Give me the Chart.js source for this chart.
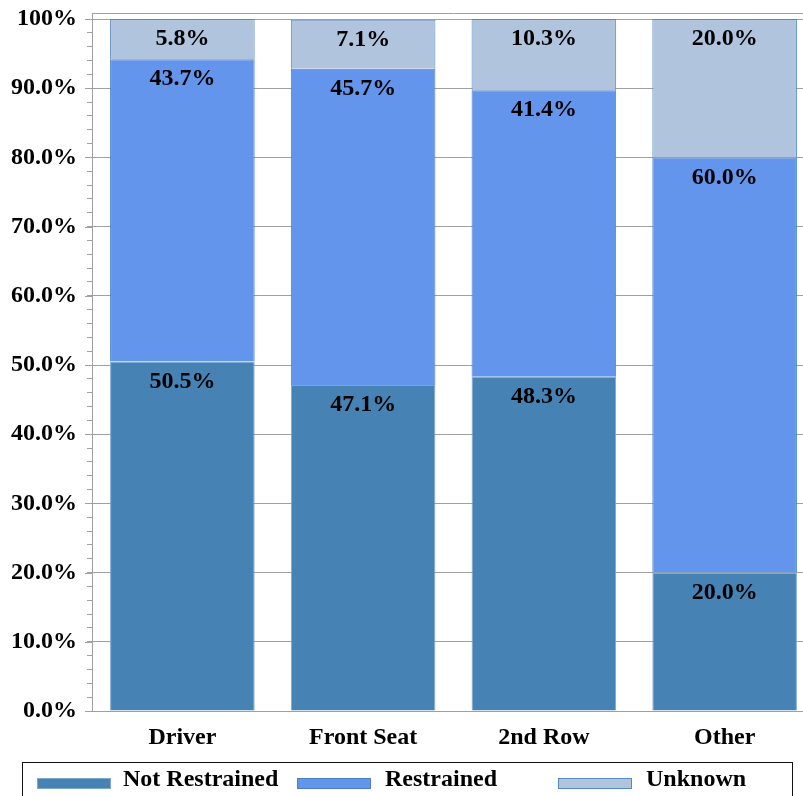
<!DOCTYPE html>
<html>
<head>
<meta charset="utf-8">
<script src="https://cdn.jsdelivr.net/npm/chart.js@4/dist/chart.umd.min.js"></script>
<style>
  html, body { margin: 0; padding: 0; background: #fff; overflow: hidden; }
  #wrap { position: absolute; left: 0; top: 0; width: 816px; height: 796px; }
</style>
</head>
<body>
<div id="wrap"><canvas id="chart"></canvas></div>
<script>
// Chart data
const categories = ["Driver", "Front Seat", "2nd Row", "Other"];
const notRestrained = [50.5, 47.1, 48.3, 20.0];
const restrained = [43.7, 45.7, 41.4, 60.0];
const unknown = [5.8, 7.1, 10.3, 20.0];
const seriesNames = ["Not Restrained", "Restrained", "Unknown"];
const yTicks = [0, 10, 20, 30, 40, 50, 60, 70, 80, 90, 100];

const FONT = "'Liberation Serif', 'Times New Roman', serif";
const GRID = "#a0a0a0";

// labels at the top of each segment
const segmentLabels = {
    id: "segmentLabels",
    afterDatasetsDraw(chart) {
        const ctx = chart.ctx;
        ctx.save();
        ctx.font = "bold 24px " + FONT;
        ctx.fillStyle = "#000";
        ctx.textAlign = "center";
        ctx.textBaseline = "middle";
        chart.data.datasets.forEach((ds, i) => {
            chart.getDatasetMeta(i).data.forEach((bar, j) => {
                ctx.fillText(ds.data[j].toFixed(1) + "%", bar.x, bar.y + 20);
            });
        });
        ctx.restore();
    }
};

// frame line on top, longer major ticks, and the boxed legend at the bottom
const frameAndLegend = {
    id: "frameAndLegend",
    afterDraw(chart) {
        const ctx = chart.ctx;
        const area = chart.chartArea;
        const y = chart.scales.y;
        ctx.save();
        ctx.strokeStyle = GRID;
        ctx.lineWidth = 1;
        ctx.beginPath();
        ctx.moveTo(area.left, area.top + 0.5);
        ctx.lineTo(area.right, area.top + 0.5);
        yTicks.forEach((v) => {
            const py = Math.round(y.getPixelForValue(v)) + 0.5;
            ctx.moveTo(area.left - 7, py);
            ctx.lineTo(area.left, py);
        });
        ctx.stroke();

        // legend box
        ctx.strokeStyle = "#111";
        ctx.strokeRect(22.5, 762.5, 770, 60);
        const items = [
            { sx: 37, tx: 123 },
            { sx: 297, tx: 385 },
            { sx: 558, tx: 646 }
        ];
        ctx.font = "bold 24px " + FONT;
        ctx.textBaseline = "middle";
        ctx.textAlign = "left";
        items.forEach((it, i) => {
            const ds = chart.data.datasets[i];
            ctx.fillStyle = ds.backgroundColor;
            ctx.fillRect(it.sx, 778, 74, 11);
            ctx.strokeStyle = ds.borderColor;
            ctx.strokeRect(it.sx + 0.5, 778.5, 73, 10);
            ctx.fillStyle = "#000";
            ctx.fillText(seriesNames[i], it.tx, 780);
        });
        ctx.restore();
    }
};

function renderChart() {
    const ctx = document.getElementById("chart").getContext("2d");
    new Chart(ctx, {
        type: "bar",
        data: {
            labels: categories,
            datasets: [
                { label: seriesNames[0], data: notRestrained, backgroundColor: "#4682B4", borderColor: "#7fa6cf", borderWidth: 1 },
                { label: seriesNames[1], data: restrained, backgroundColor: "#6495ED", borderColor: "#4a80c2", borderWidth: 1 },
                { label: seriesNames[2], data: unknown, backgroundColor: "#B0C4DE", borderColor: "#5588c4", borderWidth: 1 }
            ]
        },
        options: {
            responsive: true,
            maintainAspectRatio: false,
            animation: false,
            layout: { padding: { top: 13, right: 1, bottom: 0, left: 0 } },
            plugins: {
                legend: { display: false },
                tooltip: { enabled: false }
            },
            datasets: {
                bar: { barPercentage: 0.8, categoryPercentage: 1.0 }
            },
            scales: {
                x: {
                    stacked: true,
                    grid: { display: false },
                    border: { color: GRID },
                    ticks: {
                        color: "#000",
                        font: { family: FONT, size: 24, weight: "bold" },
                        padding: 4
                    },
                    afterFit(scale) {
                        scale.height = 85;
                        scale.paddingLeft = 0;
                        scale.paddingRight = 0;
                    }
                },
                y: {
                    stacked: true,
                    min: 0,
                    max: 100.87,
                    border: { color: GRID },
                    grid: {
                        color: (c) => (c.tick && Math.abs(Math.round(c.tick.value) % 10) === 0 ? GRID : "rgba(0,0,0,0)"),
                        tickColor: GRID,
                        tickLength: 5
                    },
                    ticks: {
                        stepSize: 2,
                        includeBounds: false,
                        autoSkip: false,
                        color: "#000",
                        padding: 10,
                        font: { family: FONT, size: 24, weight: "bold" },
                        callback: (v) => {
                            const r = Math.round(v * 1000) / 1000;
                            if (!yTicks.includes(r)) return "";
                            return r === 100 ? "100%" : r.toFixed(1) + "%";
                        }
                    },
                    afterFit(scale) {
                        scale.width = 92;
                        scale.paddingTop = 0;
                        scale.paddingBottom = 0;
                    }
                }
            }
        },
        plugins: [segmentLabels, frameAndLegend]
    });
}

document.addEventListener("DOMContentLoaded", renderChart);
</script>
</body>
</html>
